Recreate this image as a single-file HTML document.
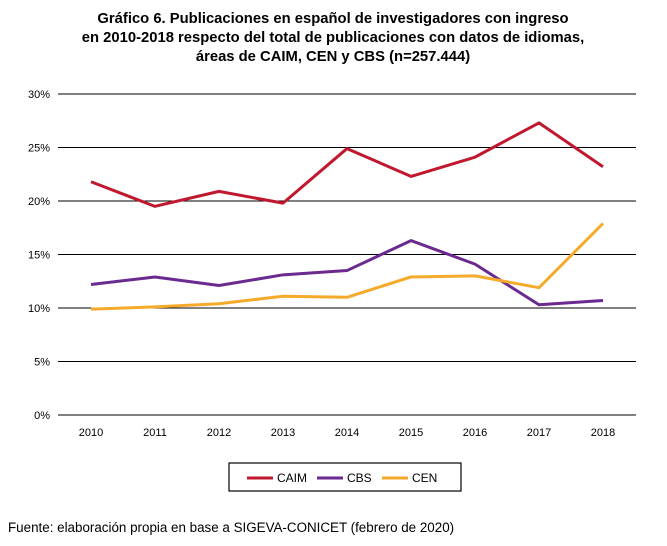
<!DOCTYPE html>
<html><head><meta charset="utf-8"><style>
body{margin:0;background:#fff;width:667px;height:541px;overflow:hidden;font-family:"Liberation Sans",sans-serif}
</style></head><body>
<svg width="667" height="541">
<g font-weight="bold" font-size="14.8" text-anchor="middle" fill="#000">
<text x="333" y="23">Gráfico 6. Publicaciones en español de investigadores con ingreso</text>
<text x="333" y="42">en 2010-2018 respecto del total de publicaciones con datos de idiomas,</text>
<text x="333" y="61">áreas de CAIM, CEN y CBS (n=257.444)</text>
</g>
<g id="grid"></g><g id="series"></g>
<rect x="229" y="463" width="232" height="28" fill="none" stroke="#000" stroke-width="1.2"/>
<g font-size="12">
<line x1="247" y1="478" x2="273" y2="478" stroke="#c0182f" stroke-width="3"/><text x="277" y="482">CAIM</text>
<line x1="317" y1="478" x2="343" y2="478" stroke="#6a2a90" stroke-width="3"/><text x="347" y="482">CBS</text>
<line x1="382" y1="478" x2="408" y2="478" stroke="#f5aa2a" stroke-width="3"/><text x="412" y="482">CEN</text>
</g>
<text x="8" y="532" font-size="13.4">Fuente: elaboración propia en base a SIGEVA-CONICET (febrero de 2020)</text>
</svg>
<script>
const years=["2010","2011","2012","2013","2014","2015","2016","2017","2018"];
const caim=[21.8,19.5,20.9,19.8,24.9,22.3,24.1,27.3,23.2];
const cbs=[12.2,12.9,12.1,13.1,13.5,16.3,14.1,10.3,10.7];
const cen=[9.9,10.1,10.4,11.1,11.0,12.9,13.0,11.9,17.9];
const yTicks=[0,5,10,15,20,25,30];
const NS="http://www.w3.org/2000/svg";
const x=i=>91+i*64, y=v=>415-v*10.7;
const grid=document.getElementById('grid'), ser=document.getElementById('series');
function mk(t,a,p){const e=document.createElementNS(NS,t);for(const k in a)e.setAttribute(k,a[k]);p.appendChild(e);return e;}
yTicks.forEach(v=>{
 const l=mk('line',{x1:58,x2:636,y1:y(v),y2:y(v),stroke:'#000','stroke-width':1},grid);
 
 
 const t=mk('text',{x:50,y:y(v)+4,'font-size':11,'text-anchor':'end'},grid);t.textContent=v+'%';
 
 
});
years.forEach((yr,i)=>{
 const t=mk('text',{x:x(i),y:436,'font-size':11,'text-anchor':'middle'},grid);t.textContent=yr;
 
 
});
[[caim,'#c0182f','caim-line'],[cbs,'#6a2a90','cbs-line'],[cen,'#f5aa2a','cen-line']].forEach(([d,c,n])=>{
 const p=mk('polyline',{points:d.map((v,i)=>x(i)+','+y(v)).join(' '),fill:'none',stroke:c,'stroke-width':3,'stroke-linejoin':'round'},ser);
 
 
});
</script>
</body></html>
